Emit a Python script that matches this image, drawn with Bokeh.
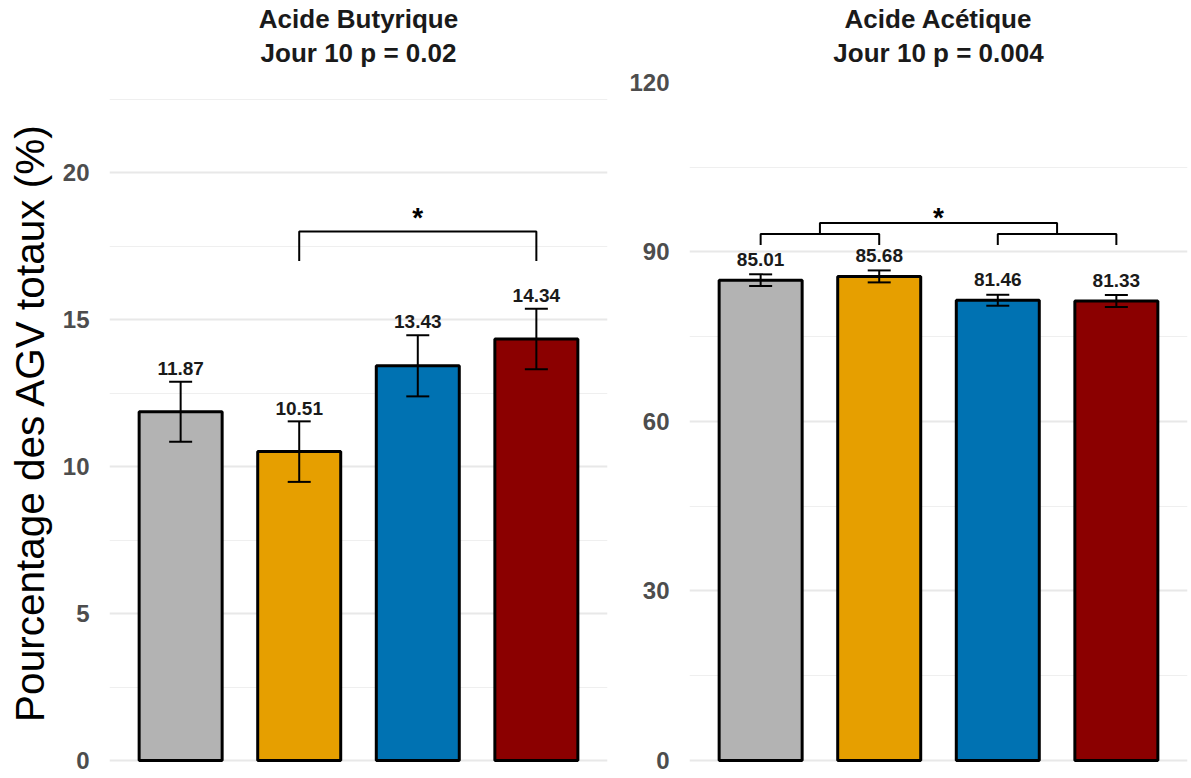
from bokeh.plotting import figure
from bokeh.models import Range1d, FixedTicker, Whisker, TeeHead, ColumnDataSource
from bokeh.layouts import row, column
from bokeh.embed import file_html
from bokeh.resources import INLINE
from bokeh.core.properties import value
import numpy as np

# ---------------- data ----------------
groups = ["G1", "G2", "G3", "G4"]
colors = ["#B3B3B3", "#E69F00", "#0072B2", "#8B0000"]

but_means = [11.87, 10.51, 13.43, 14.34]
but_se = [1.02, 1.03, 1.04, 1.03]
ace_means = [85.01, 85.68, 81.46, 81.33]
ace_se = [1.03, 1.06, 0.97, 1.05]

but_title = "Acide Butyrique"
but_sub = "Jour 10 p = 0.02"
ace_title = "Acide Acétique"
ace_sub = "Jour 10 p = 0.004"
ylabel = "Pourcentage des AGV totaux (%)"

but_ticks = [0, 5, 10, 15, 20]
but_minor = [2.5, 7.5, 12.5, 17.5, 22.5]
ace_ticks = [0, 30, 60, 90, 120]
ace_minor = [15, 45, 75, 105]

# significance brackets: (group pos start, group pos end, y of bar, y of legs end)
but_brackets = [(2, 4, 18.0, 17.0)]
but_star = (3, 18.47)
ace_brackets = [(1, 2, 93.2, 91.25), (3, 4, 93.2, 91.25), (1.5, 3.5, 95.15, 93.2)]
ace_star = (2.5, 96.07)

FONT = "Liberation Sans"
H = 776          # total height
TH = 68          # title strip height
TOP = 14         # plot top border (frame top at TH + TOP)
BOTTOM = 14
TITLE_Y_PX = (18, 52)   # vertical centres of the two title lines


def make_title(title, sub, width, mbl, mbr):
    t = figure(width=width, height=TH, x_range=Range1d(0.4, len(groups) + 0.6),
               y_range=Range1d(0, TH), x_axis_type=None, y_axis_type=None,
               output_backend="svg", toolbar_location=None,
               min_border_left=mbl, min_border_right=mbr,
               min_border_top=0, min_border_bottom=0)
    t.outline_line_color = None
    t.grid.visible = False
    xc = (len(groups) + 1) / 2
    t.text(x=[xc, xc], y=[TH - TITLE_Y_PX[0], TH - TITLE_Y_PX[1]],
           text=[title, sub], text_align="center", text_baseline="middle",
           text_font=value(FONT), text_font_size="26px",
           text_font_style="bold", text_color="#1A1A1A")
    return t


def make_panel(means, se, ticks, minor, yr, brackets, star,
               width, mbl, mbr, ylab, label_gap_px):
    x = np.arange(1, len(groups) + 1)
    m = np.array(means)
    s = np.array(se)
    ph = H - TH
    ppu = (ph - TOP - BOTTOM) / (yr[1] - yr[0])
    src = ColumnDataSource(dict(x=x, top=m, lo=m - s, hi=m + s,
                                laby=m + s + label_gap_px / ppu, color=colors,
                                lab=[f"{v:.2f}" for v in means]))
    p = figure(width=width, height=ph,
               x_range=Range1d(0.4, len(groups) + 0.6), y_range=Range1d(*yr),
               output_backend="svg", toolbar_location=None,
               min_border_left=mbl, min_border_right=mbr,
               min_border_top=TOP, min_border_bottom=BOTTOM)
    p.outline_line_color = None
    p.background_fill_color = "white"
    p.border_fill_color = "white"
    p.xaxis.visible = False
    p.xgrid.visible = False

    tk = FixedTicker(ticks=ticks, minor_ticks=minor)
    p.yaxis.ticker = tk
    p.ygrid.ticker = tk
    p.ygrid.grid_line_color = "#E8E8E8"
    p.ygrid.grid_line_width = 2
    p.ygrid.minor_grid_line_color = "#EFEFEF"
    p.ygrid.minor_grid_line_width = 1

    ax = p.yaxis[0]
    ax.axis_line_color = None
    ax.major_tick_line_color = None
    ax.minor_tick_line_color = None
    ax.major_tick_out = 0
    ax.major_tick_in = 0
    ax.minor_tick_out = 0
    ax.minor_tick_in = 0
    ax.major_label_standoff = 20
    ax.major_label_text_font = FONT
    ax.major_label_text_font_size = "24px"
    ax.major_label_text_font_style = "bold"
    ax.major_label_text_color = "#4D4D4D"
    if ylab:
        ax.axis_label = ylab
        ax.axis_label_text_font = FONT
        ax.axis_label_text_font_size = "40.5px"
        ax.axis_label_text_font_style = "normal"
        ax.axis_label_text_color = "black"
        ax.axis_label_standoff = 7

    p.vbar(x="x", top="top", bottom=0, width=0.7, source=src,
           fill_color="color", line_color="black", line_width=3)

    w = Whisker(base="x", upper="hi", lower="lo", source=src,
                line_color="black", line_width=2, level="overlay",
                upper_head=TeeHead(size=23, line_width=2, line_color="black"),
                lower_head=TeeHead(size=23, line_width=2, line_color="black"))
    p.add_layout(w)

    p.text(x="x", y="laby", text="lab", source=src, text_align="center",
           text_baseline="middle",
           text_font=value(FONT), text_font_size="19px",
           text_font_style="bold", text_color="#1A1A1A")

    xs = [[b[0], b[0], b[1], b[1]] for b in brackets]
    ys = [[b[3], b[2], b[2], b[3]] for b in brackets]
    p.multi_line(xs=xs, ys=ys, line_color="black", line_width=2)
    p.text(x=[star[0]], y=[star[1]], text=["*"], text_align="center",
           text_baseline="middle", text_font=value(FONT),
           text_font_size="28px", text_font_style="bold", text_color="black")
    return p


t1 = make_title(but_title, but_sub, 620, 109, 13)
p1 = make_panel(but_means, but_se, but_ticks, but_minor,
                (-0.068, 23.07), but_brackets, but_star,
                620, 109, 13, ylabel, 13.3)
t2 = make_title(ace_title, ace_sub, 570, 69, 3)
p2 = make_panel(ace_means, ace_se, ace_ticks, ace_minor,
                (-0.354, 120.0), ace_brackets, ace_star,
                570, 69, 3, None, 15)

layout = row(column(t1, p1), column(t2, p2))
open("out.html", "w").write(file_html(layout, INLINE))
